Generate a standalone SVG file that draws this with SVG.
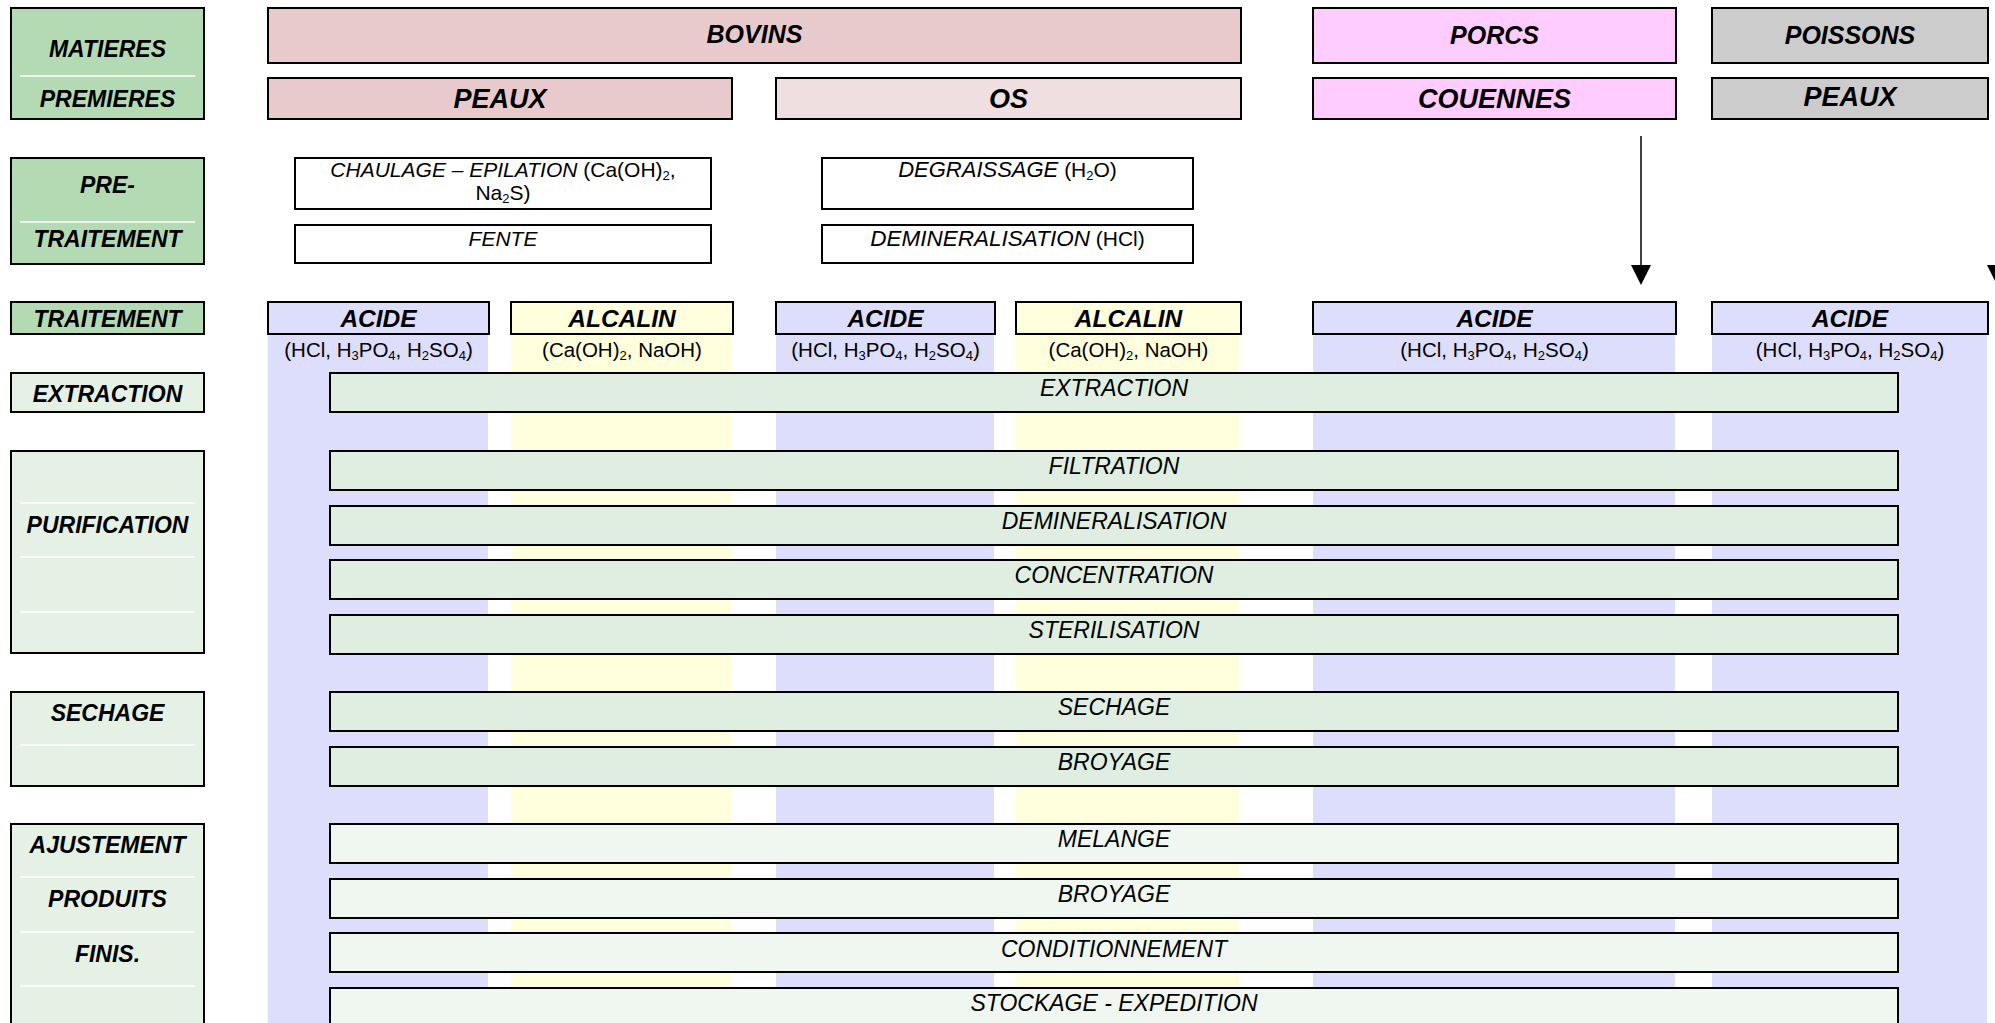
<svg xmlns="http://www.w3.org/2000/svg" width="1995" height="1023" viewBox="0 0 1995 1023">
<style>
.bx{stroke:#000;stroke-width:2}
.g1{fill:#B4DAB4}
.g2{fill:#E5F1E5}
.pr1{fill:#DFEEE1}
.pr2{fill:#F0F7F0}
.blue{fill:#DDDDFC}
.yel{fill:#FFFFDD}
.wh{fill:#FFFFFF}
.wl{stroke:#FFFFFF;stroke-width:1.5}
text{font-family:"Liberation Sans",Arial,Helvetica,sans-serif;fill:#000;text-anchor:middle}
.lab{font-size:23px;font-weight:bold;font-style:italic}
.top{font-size:25px;font-weight:bold;font-style:italic}
.sub2{font-size:27px;font-weight:bold;font-style:italic}
.trt{font-size:24.5px;font-weight:bold;font-style:italic}
.chem{font-size:20.5px}
.proc{font-size:23px;font-style:italic}
.pre{font-size:21px}
.it{font-style:italic}
.s{font-size:13px}
.conn{stroke:#000;stroke-width:1.5;fill:none;marker-end:url(#ah)}
</style>
<defs>
<marker id="ah" viewBox="0 0 20 20" refX="0" refY="10" markerWidth="20" markerHeight="20" markerUnits="userSpaceOnUse" orient="auto">
<path d="M0,0 L20,10 L0,20 z" fill="#000"/>
</marker>
</defs>
<rect width="1995" height="1023" fill="#FFFFFF"/>

<!-- column backgrounds -->
<g id="columns">
<rect class="blue" x="268" y="302" width="220" height="721"/>
<rect class="yel" x="511" y="302" width="220" height="721"/>
<rect class="blue" x="776" y="302" width="218" height="721"/>
<rect class="yel" x="1016" y="302" width="223" height="721"/>
<rect class="blue" x="1313" y="302" width="362" height="721"/>
<rect class="blue" x="1712" y="302" width="275" height="721"/>
</g>

<!-- left column labels -->
<g id="lbl-matieres">
<rect class="bx g1" x="11" y="8" width="193" height="111"/>
<line class="wl" x1="20" y1="76" x2="195" y2="76"/>
<text class="lab" x="107.5" y="57">MATIERES</text>
<text class="lab" x="107.5" y="107">PREMIERES</text>
</g>
<g id="lbl-pretraitement">
<rect class="bx g1" x="11" y="158" width="193" height="106"/>
<line class="wl" x1="20" y1="222" x2="195" y2="222"/>
<text class="lab" x="107.5" y="193">PRE-</text>
<text class="lab" x="107.5" y="247">TRAITEMENT</text>
</g>
<g id="lbl-traitement">
<rect class="bx g1" x="11" y="302" width="193" height="32"/>
<text class="lab" x="107.5" y="327">TRAITEMENT</text>
</g>
<g id="lbl-extraction">
<rect class="bx g2" x="11" y="373" width="193" height="39"/>
<text class="lab" x="107.5" y="402">EXTRACTION</text>
</g>
<g id="lbl-purification">
<rect class="bx g2" x="11" y="451" width="193" height="202"/>
<line class="wl" x1="20" y1="503" x2="195" y2="503"/>
<line class="wl" x1="20" y1="557" x2="195" y2="557"/>
<line class="wl" x1="20" y1="612" x2="195" y2="612"/>
<text class="lab" x="107.5" y="533">PURIFICATION</text>
</g>
<g id="lbl-sechage">
<rect class="bx g2" x="11" y="692" width="193" height="94"/>
<line class="wl" x1="20" y1="745" x2="195" y2="745"/>
<text class="lab" x="107.5" y="721">SECHAGE</text>
</g>
<g id="lbl-ajustement">
<rect class="bx g2" x="11" y="824" width="193" height="210"/>
<line class="wl" x1="20" y1="877" x2="195" y2="877"/>
<line class="wl" x1="20" y1="932" x2="195" y2="932"/>
<line class="wl" x1="20" y1="986" x2="195" y2="986"/>
<text class="lab" x="107.5" y="853">AJUSTEMENT</text>
<text class="lab" x="107.5" y="907">PRODUITS</text>
<text class="lab" x="107.5" y="962">FINIS.</text>
</g>

<!-- raw materials -->
<g id="bovins">
<rect class="bx" fill="#E8CACC" x="268" y="8" width="973" height="55"/>
<text class="top" x="754.5" y="43">BOVINS</text>
</g>
<g id="bovins-peaux">
<rect class="bx" fill="#E8CACC" x="268" y="78" width="464" height="41"/>
<text class="sub2" x="500" y="108">PEAUX</text>
</g>
<g id="bovins-os">
<rect class="bx" fill="#F0DFE0" x="776" y="78" width="465" height="41"/>
<text class="sub2" x="1008.5" y="108">OS</text>
</g>
<g id="porcs">
<rect class="bx" fill="#FFCCFF" x="1313" y="8" width="363" height="55"/>
<text class="top" x="1494.5" y="44">PORCS</text>
</g>
<g id="porcs-couennes">
<rect class="bx" fill="#FFCCFF" x="1313" y="78" width="363" height="41"/>
<text class="sub2" x="1494.5" y="108">COUENNES</text>
</g>
<g id="poissons">
<rect class="bx" fill="#CCCCCC" x="1712" y="8" width="276" height="55"/>
<text class="top" x="1850" y="44">POISSONS</text>
</g>
<g id="poissons-peaux">
<rect class="bx" fill="#CCCCCC" x="1712" y="78" width="276" height="41"/>
<text class="sub2" x="1850" y="106">PEAUX</text>
</g>

<!-- pre-treatment -->
<g id="pre-chaulage">
<rect class="bx wh" x="295" y="158" width="416" height="51"/>
<text class="pre" x="503" y="177"><tspan class="it">CHAULAGE – EPILATION</tspan> (Ca(OH)<tspan class="s" dy="3">2</tspan><tspan dy="-3">,</tspan></text>
<text class="pre" x="503" y="200">Na<tspan class="s" dy="3">2</tspan><tspan dy="-3">S)</tspan></text>
</g>
<g id="pre-fente">
<rect class="bx wh" x="295" y="225" width="416" height="38"/>
<text class="pre it" x="503" y="246" font-size="23px">FENTE</text>
</g>
<g id="pre-degraissage">
<rect class="bx wh" x="822" y="158" width="371" height="51"/>
<text class="pre" x="1007.5" y="177"><tspan class="it" font-size="22px">DEGRAISSAGE</tspan> (H<tspan class="s" dy="3">2</tspan><tspan dy="-3">O)</tspan></text>
</g>
<g id="pre-demineralisation">
<rect class="bx wh" x="822" y="225" width="371" height="38"/>
<text class="pre" x="1007.5" y="246"><tspan class="it" font-size="22.5px">DEMINERALISATION</tspan> (HCl)</text>
</g>

<!-- treatment headers -->
<g id="trt-acide-1">
<rect class="bx blue" x="268" y="302" width="221" height="32"/>
<text class="trt" x="378.5" y="327">ACIDE</text>
<text class="chem" x="378.5" y="357">(HCl, H<tspan class="s" dy="3">3</tspan><tspan dy="-3">PO</tspan><tspan class="s" dy="3">4</tspan><tspan dy="-3">, H</tspan><tspan class="s" dy="3">2</tspan><tspan dy="-3">SO</tspan><tspan class="s" dy="3">4</tspan><tspan dy="-3">)</tspan></text>
</g>
<g id="trt-alcalin-1">
<rect class="bx yel" x="511" y="302" width="222" height="32"/>
<text class="trt" x="622" y="327">ALCALIN</text>
<text class="chem" x="622" y="357">(Ca(OH)<tspan class="s" dy="3">2</tspan><tspan dy="-3">, NaOH)</tspan></text>
</g>
<g id="trt-acide-2">
<rect class="bx blue" x="776" y="302" width="219" height="32"/>
<text class="trt" x="885.5" y="327">ACIDE</text>
<text class="chem" x="885.5" y="357">(HCl, H<tspan class="s" dy="3">3</tspan><tspan dy="-3">PO</tspan><tspan class="s" dy="3">4</tspan><tspan dy="-3">, H</tspan><tspan class="s" dy="3">2</tspan><tspan dy="-3">SO</tspan><tspan class="s" dy="3">4</tspan><tspan dy="-3">)</tspan></text>
</g>
<g id="trt-alcalin-2">
<rect class="bx yel" x="1016" y="302" width="225" height="32"/>
<text class="trt" x="1128.5" y="327">ALCALIN</text>
<text class="chem" x="1128.5" y="357">(Ca(OH)<tspan class="s" dy="3">2</tspan><tspan dy="-3">, NaOH)</tspan></text>
</g>
<g id="trt-acide-3">
<rect class="bx blue" x="1313" y="302" width="363" height="32"/>
<text class="trt" x="1494.5" y="327">ACIDE</text>
<text class="chem" x="1494.5" y="357">(HCl, H<tspan class="s" dy="3">3</tspan><tspan dy="-3">PO</tspan><tspan class="s" dy="3">4</tspan><tspan dy="-3">, H</tspan><tspan class="s" dy="3">2</tspan><tspan dy="-3">SO</tspan><tspan class="s" dy="3">4</tspan><tspan dy="-3">)</tspan></text>
</g>
<g id="trt-acide-4">
<rect class="bx blue" x="1712" y="302" width="276" height="32"/>
<text class="trt" x="1850" y="327">ACIDE</text>
<text class="chem" x="1850" y="357">(HCl, H<tspan class="s" dy="3">3</tspan><tspan dy="-3">PO</tspan><tspan class="s" dy="3">4</tspan><tspan dy="-3">, H</tspan><tspan class="s" dy="3">2</tspan><tspan dy="-3">SO</tspan><tspan class="s" dy="3">4</tspan><tspan dy="-3">)</tspan></text>
</g>

<!-- process steps -->
<g id="p-extraction"><rect class="bx pr1" x="330" y="373" width="1568" height="39"/><text class="proc" x="1114" y="396">EXTRACTION</text></g>
<g id="p-filtration"><rect class="bx pr1" x="330" y="451" width="1568" height="39"/><text class="proc" x="1114" y="474">FILTRATION</text></g>
<g id="p-demineralisation"><rect class="bx pr1" x="330" y="506" width="1568" height="39"/><text class="proc" x="1114" y="529">DEMINERALISATION</text></g>
<g id="p-concentration"><rect class="bx pr1" x="330" y="560" width="1568" height="39"/><text class="proc" x="1114" y="583">CONCENTRATION</text></g>
<g id="p-sterilisation"><rect class="bx pr1" x="330" y="615" width="1568" height="39"/><text class="proc" x="1114" y="638">STERILISATION</text></g>
<g id="p-sechage"><rect class="bx pr1" x="330" y="692" width="1568" height="39"/><text class="proc" x="1114" y="715">SECHAGE</text></g>
<g id="p-broyage-1"><rect class="bx pr1" x="330" y="747" width="1568" height="39"/><text class="proc" x="1114" y="770">BROYAGE</text></g>
<g id="p-melange"><rect class="bx pr2" x="330" y="824" width="1568" height="39"/><text class="proc" x="1114" y="847">MELANGE</text></g>
<g id="p-broyage-2"><rect class="bx pr2" x="330" y="879" width="1568" height="39"/><text class="proc" x="1114" y="902">BROYAGE</text></g>
<g id="p-conditionnement"><rect class="bx pr2" x="330" y="933" width="1568" height="39"/><text class="proc" x="1114" y="957">CONDITIONNEMENT</text></g>
<g id="p-stockage"><rect class="bx pr2" x="330" y="988" width="1568" height="50"/><text class="proc" x="1114" y="1011">STOCKAGE - EXPEDITION</text></g>

<!-- connectors -->
<g id="connectors">
<line class="conn" x1="1641" y1="136" x2="1641" y2="265"/>
<line class="conn" x1="1997" y1="136" x2="1997" y2="265"/>
</g>
</svg>
